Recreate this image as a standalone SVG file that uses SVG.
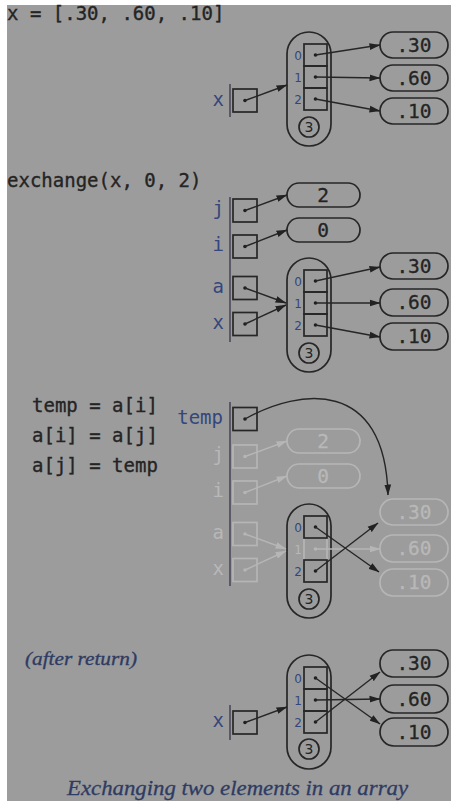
<svg xmlns="http://www.w3.org/2000/svg" width="451" height="801" viewBox="0 0 451 801">
  <style>
    .code { font-family: "DejaVu Sans Mono", "Liberation Mono", monospace; font-size: 19px; fill: #242424; stroke: #242424; stroke-width: 0.35; }
    .var { font-family: "DejaVu Sans Mono", "Liberation Mono", monospace; font-size: 19px; fill: #34467c; text-anchor: end; }
    .idx { font-family: "DejaVu Sans", "Liberation Sans", sans-serif; font-size: 12px; fill: #34467c; text-anchor: middle; }
    .num { font-family: "DejaVu Sans Mono", "Liberation Mono", monospace; font-size: 19.5px; fill: #242424; stroke: #242424; stroke-width: 0.3; text-anchor: middle; }
    .len { font-family: "DejaVu Sans", "Liberation Sans", sans-serif; font-size: 14px; fill: #242424; text-anchor: middle; }
    .shape { fill: none; stroke: #262626; stroke-width: 1.7; }
    .rule { stroke: #4a4a5a; stroke-width: 1.6; }
    .dot { fill: #1e1e1e; }
    .link { fill: none; stroke: #262626; stroke-width: 1.4; marker-end: url(#ah); }
    .faded .shape, .faded.shape { stroke: #b6b6b6; }
    .faded .dot { fill: #b6b6b6; }
    .faded .num { fill: #b8b8b8; stroke: #b8b8b8; }
    .faded .var, .faded .idx { fill: #b8b8b8; }
    .link.faded { stroke: #b6b6b6; marker-end: url(#ahf); }
    .note { font-family: "Liberation Serif", "DejaVu Serif", serif; font-style: italic; fill: #2e3b63; stroke: #2e3b63; stroke-width: 0.3; }
  </style>
  <defs>
    <marker id="ah" markerUnits="userSpaceOnUse" markerWidth="11" markerHeight="8" refX="10.5" refY="4" orient="auto">
      <path d="M0,0.6 L11,4 L0,7.4 z" fill="#222"/>
    </marker>
    <marker id="ahf" markerUnits="userSpaceOnUse" markerWidth="11" markerHeight="8" refX="10.5" refY="4" orient="auto">
      <path d="M0,0.6 L11,4 L0,7.4 z" fill="#b6b6b6"/>
    </marker>
  </defs>

  <!-- page -->
  <rect x="0" y="0" width="451" height="801" fill="#ffffff"/>
  <rect x="7" y="5" width="444" height="796" fill="#9c9c9c"/>

  <!-- ===== x = [.30, .60, .10] ===== -->
  <text class="code" x="7" y="20">x = [.30, .60, .10]</text>
  <g transform="translate(0,32)">
    <g id="s1-x">
      <line class="rule" x1="230" y1="52" x2="230" y2="85"/>
      <text class="var" x="224" y="74">x</text>
      <rect class="shape" x="233" y="57" width="24" height="23"/>
      <circle class="dot" cx="245" cy="68.5" r="1.8"/>
    </g>
    <g id="s1-array">
      <rect class="shape" x="287" y="0" width="44" height="114" rx="22"/>
      <rect class="shape" x="304" y="12" width="23" height="22"/>
      <rect class="shape" x="304" y="34" width="23" height="22"/>
      <rect class="shape" x="304" y="56" width="23" height="22"/>
      <circle class="dot" cx="315.5" cy="23" r="1.8"/>
      <circle class="dot" cx="315.5" cy="45" r="1.8"/>
      <circle class="dot" cx="315.5" cy="67" r="1.8"/>
      <text class="idx" x="298" y="28">0</text>
      <text class="idx" x="298" y="50">1</text>
      <text class="idx" x="298" y="72">2</text>
      <circle class="shape" cx="309" cy="95" r="10"/>
      <text class="len" x="309" y="100">3</text>
    </g>
    <g id="s1-v30"><rect class="shape" x="380" y="0" width="68" height="26" rx="13"/><text class="num" x="414" y="20">.30</text></g>
    <g id="s1-v60"><rect class="shape" x="380" y="33" width="68" height="26" rx="13"/><text class="num" x="414" y="53">.60</text></g>
    <g id="s1-v10"><rect class="shape" x="380" y="66" width="68" height="26" rx="13"/><text class="num" x="414" y="86">.10</text></g>
    <g id="s1-links">
      <line class="link" x1="245" y1="68.5" x2="287" y2="53"/>
      <line class="link" x1="315.5" y1="23" x2="380" y2="13"/>
      <line class="link" x1="315.5" y1="45" x2="380" y2="46"/>
      <line class="link" x1="315.5" y1="67" x2="380" y2="79"/>
    </g>
  </g>

  <!-- ===== exchange(x, 0, 2) ===== -->
  <text class="code" x="7" y="187">exchange(x, 0, 2)</text>
  <g transform="translate(0,258)">
    <line class="rule" x1="230" y1="-61" x2="230" y2="84"/>
    <g id="s2-j">
      <text class="var" x="224" y="-43">j</text>
      <rect class="shape" x="233" y="-59" width="24" height="23"/>
      <circle class="dot" cx="245" cy="-47.5" r="1.8"/>
    </g>
    <g id="s2-i">
      <text class="var" x="224" y="-7">i</text>
      <rect class="shape" x="233" y="-23" width="24" height="23"/>
      <circle class="dot" cx="245" cy="-11.5" r="1.8"/>
    </g>
    <g id="s2-a">
      <text class="var" x="224" y="35">a</text>
      <rect class="shape" x="233" y="18.5" width="24" height="23"/>
      <circle class="dot" cx="245" cy="30" r="1.8"/>
    </g>
    <g id="s2-x">
      <text class="var" x="224" y="71">x</text>
      <rect class="shape" x="233" y="54.5" width="24" height="23"/>
      <circle class="dot" cx="245" cy="66" r="1.8"/>
    </g>
    <g id="s2-v2"><rect class="shape" x="287" y="-75" width="73" height="24" rx="12"/><text class="num" x="323" y="-56">2</text></g>
    <g id="s2-v0"><rect class="shape" x="287" y="-40" width="73" height="24" rx="12"/><text class="num" x="323" y="-21">0</text></g>
    <g id="s2-array">
      <rect class="shape" x="287" y="0" width="44" height="114" rx="22"/>
      <rect class="shape" x="304" y="12" width="23" height="22"/>
      <rect class="shape" x="304" y="34" width="23" height="22"/>
      <rect class="shape" x="304" y="56" width="23" height="22"/>
      <circle class="dot" cx="315.5" cy="23" r="1.8"/>
      <circle class="dot" cx="315.5" cy="45" r="1.8"/>
      <circle class="dot" cx="315.5" cy="67" r="1.8"/>
      <text class="idx" x="298" y="28">0</text>
      <text class="idx" x="298" y="50">1</text>
      <text class="idx" x="298" y="72">2</text>
      <circle class="shape" cx="309" cy="95" r="10"/>
      <text class="len" x="309" y="100">3</text>
    </g>
    <g id="s2-v30"><rect class="shape" x="380" y="-5" width="68" height="26" rx="13"/><text class="num" x="414" y="15">.30</text></g>
    <g id="s2-v60"><rect class="shape" x="380" y="31" width="68" height="27" rx="13"/><text class="num" x="414" y="51">.60</text></g>
    <g id="s2-v10"><rect class="shape" x="380" y="65" width="68" height="27" rx="13"/><text class="num" x="414" y="85">.10</text></g>
    <g id="s2-links">
      <line class="link" x1="245" y1="-47.5" x2="287" y2="-63"/>
      <line class="link" x1="245" y1="-11.5" x2="287" y2="-28"/>
      <line class="link" x1="245" y1="30" x2="286" y2="45"/>
      <line class="link" x1="245" y1="66" x2="286" y2="47"/>
      <line class="link" x1="315.5" y1="23" x2="380" y2="9"/>
      <line class="link" x1="315.5" y1="45" x2="380" y2="45"/>
      <line class="link" x1="315.5" y1="67" x2="380" y2="79"/>
    </g>
  </g>

  <!-- ===== temp = a[i]; a[i] = a[j]; a[j] = temp ===== -->
  <text class="code" x="32" y="412">temp = a[i]</text>
  <text class="code" x="32" y="442">a[i] = a[j]</text>
  <text class="code" x="32" y="472">a[j] = temp</text>
  <g transform="translate(0,504)">
    <line class="rule" x1="230" y1="-102" x2="230" y2="82"/>
    <g id="s3-temp">
      <text class="var" x="223" y="-80">temp</text>
      <rect class="shape" x="233" y="-96.5" width="24" height="23"/>
      <circle class="dot" cx="245" cy="-85" r="1.8"/>
    </g>
    <g id="s3-j" class="faded">
      <text class="var" x="224" y="-43">j</text>
      <rect class="shape" x="233" y="-59" width="24" height="23"/>
      <circle class="dot" cx="245" cy="-47.5" r="1.8"/>
    </g>
    <g id="s3-i" class="faded">
      <text class="var" x="224" y="-7">i</text>
      <rect class="shape" x="233" y="-23" width="24" height="23"/>
      <circle class="dot" cx="245" cy="-11.5" r="1.8"/>
    </g>
    <g id="s3-a" class="faded">
      <text class="var" x="224" y="35">a</text>
      <rect class="shape" x="233" y="18.5" width="24" height="23"/>
      <circle class="dot" cx="245" cy="30" r="1.8"/>
    </g>
    <g id="s3-x" class="faded">
      <text class="var" x="224" y="71">x</text>
      <rect class="shape" x="233" y="54.5" width="24" height="23"/>
      <circle class="dot" cx="245" cy="66" r="1.8"/>
    </g>
    <g id="s3-v2" class="faded"><rect class="shape" x="287" y="-75" width="73" height="24" rx="12"/><text class="num" x="323" y="-56">2</text></g>
    <g id="s3-v0" class="faded"><rect class="shape" x="287" y="-40" width="73" height="24" rx="12"/><text class="num" x="323" y="-21">0</text></g>
    <g id="s3-array">
      <rect class="shape" x="287" y="0" width="44" height="114" rx="22"/>
      <g class="faded"><rect class="shape" x="304" y="34" width="23" height="22"/><circle class="dot" cx="315.5" cy="45" r="1.8"/><text class="idx" x="298" y="50">1</text></g>
      <rect class="shape" x="304" y="12" width="23" height="22"/>
      <rect class="shape" x="304" y="56" width="23" height="22"/>
      <circle class="dot" cx="315.5" cy="23" r="1.8"/>
      <circle class="dot" cx="315.5" cy="67" r="1.8"/>
      <text class="idx" x="298" y="28">0</text>
      <text class="idx" x="298" y="72">2</text>
      <circle class="shape" cx="309" cy="95" r="10"/>
      <text class="len" x="309" y="100">3</text>
    </g>
    <g id="s3-v30" class="faded"><rect class="shape" x="380" y="-5" width="68" height="26" rx="13"/><text class="num" x="414" y="15">.30</text></g>
    <g id="s3-v60" class="faded"><rect class="shape" x="380" y="31" width="68" height="27" rx="13"/><text class="num" x="414" y="51">.60</text></g>
    <g id="s3-v10" class="faded"><rect class="shape" x="380" y="65" width="68" height="27" rx="13"/><text class="num" x="414" y="85">.10</text></g>
    <g id="s3-links">
      <line class="link faded" x1="245" y1="-47.5" x2="287" y2="-63"/>
      <line class="link faded" x1="245" y1="-11.5" x2="287" y2="-28"/>
      <line class="link faded" x1="245" y1="30" x2="286" y2="45"/>
      <line class="link faded" x1="245" y1="66" x2="286" y2="47"/>
      <line class="link faded" x1="315.5" y1="45" x2="380" y2="45"/>
      <path class="link" d="M245,-85 C300,-116 385,-126 388,-9"/>
      <line class="link" x1="315.5" y1="23" x2="379" y2="68"/>
      <line class="link" x1="315.5" y1="67" x2="378" y2="19"/>
    </g>
  </g>

  <!-- ===== after return ===== -->
  <text class="note" x="25" y="665" font-size="18" textLength="112" lengthAdjust="spacingAndGlyphs">(after return)</text>
  <g transform="translate(0,655)">
    <g id="s4-x">
      <line class="rule" x1="230" y1="50" x2="230" y2="85"/>
      <text class="var" x="224" y="72">x</text>
      <rect class="shape" x="233" y="56" width="24" height="23"/>
      <circle class="dot" cx="245" cy="67.5" r="1.8"/>
    </g>
    <g id="s4-array">
      <rect class="shape" x="287" y="0" width="44" height="114" rx="22"/>
      <rect class="shape" x="304" y="12" width="23" height="22"/>
      <rect class="shape" x="304" y="34" width="23" height="22"/>
      <rect class="shape" x="304" y="56" width="23" height="22"/>
      <circle class="dot" cx="315.5" cy="23" r="1.8"/>
      <circle class="dot" cx="315.5" cy="45" r="1.8"/>
      <circle class="dot" cx="315.5" cy="67" r="1.8"/>
      <text class="idx" x="298" y="28">0</text>
      <text class="idx" x="298" y="50">1</text>
      <text class="idx" x="298" y="72">2</text>
      <circle class="shape" cx="309" cy="94" r="10"/>
      <text class="len" x="309" y="99">3</text>
    </g>
    <g id="s4-v30"><rect class="shape" x="380" y="-5" width="68" height="27" rx="13"/><text class="num" x="414" y="15">.30</text></g>
    <g id="s4-v60"><rect class="shape" x="380" y="30" width="68" height="28" rx="14"/><text class="num" x="414" y="51">.60</text></g>
    <g id="s4-v10"><rect class="shape" x="380" y="63" width="68" height="28" rx="14"/><text class="num" x="414" y="84">.10</text></g>
    <g id="s4-links">
      <line class="link" x1="245" y1="67.5" x2="287" y2="52"/>
      <line class="link" x1="315.5" y1="23" x2="380" y2="69"/>
      <line class="link" x1="315.5" y1="45" x2="380" y2="44"/>
      <line class="link" x1="315.5" y1="67" x2="380" y2="17"/>
    </g>
  </g>

  <text class="note" x="67" y="795" font-size="22" textLength="341" lengthAdjust="spacingAndGlyphs">Exchanging two elements in an array</text>
</svg>
